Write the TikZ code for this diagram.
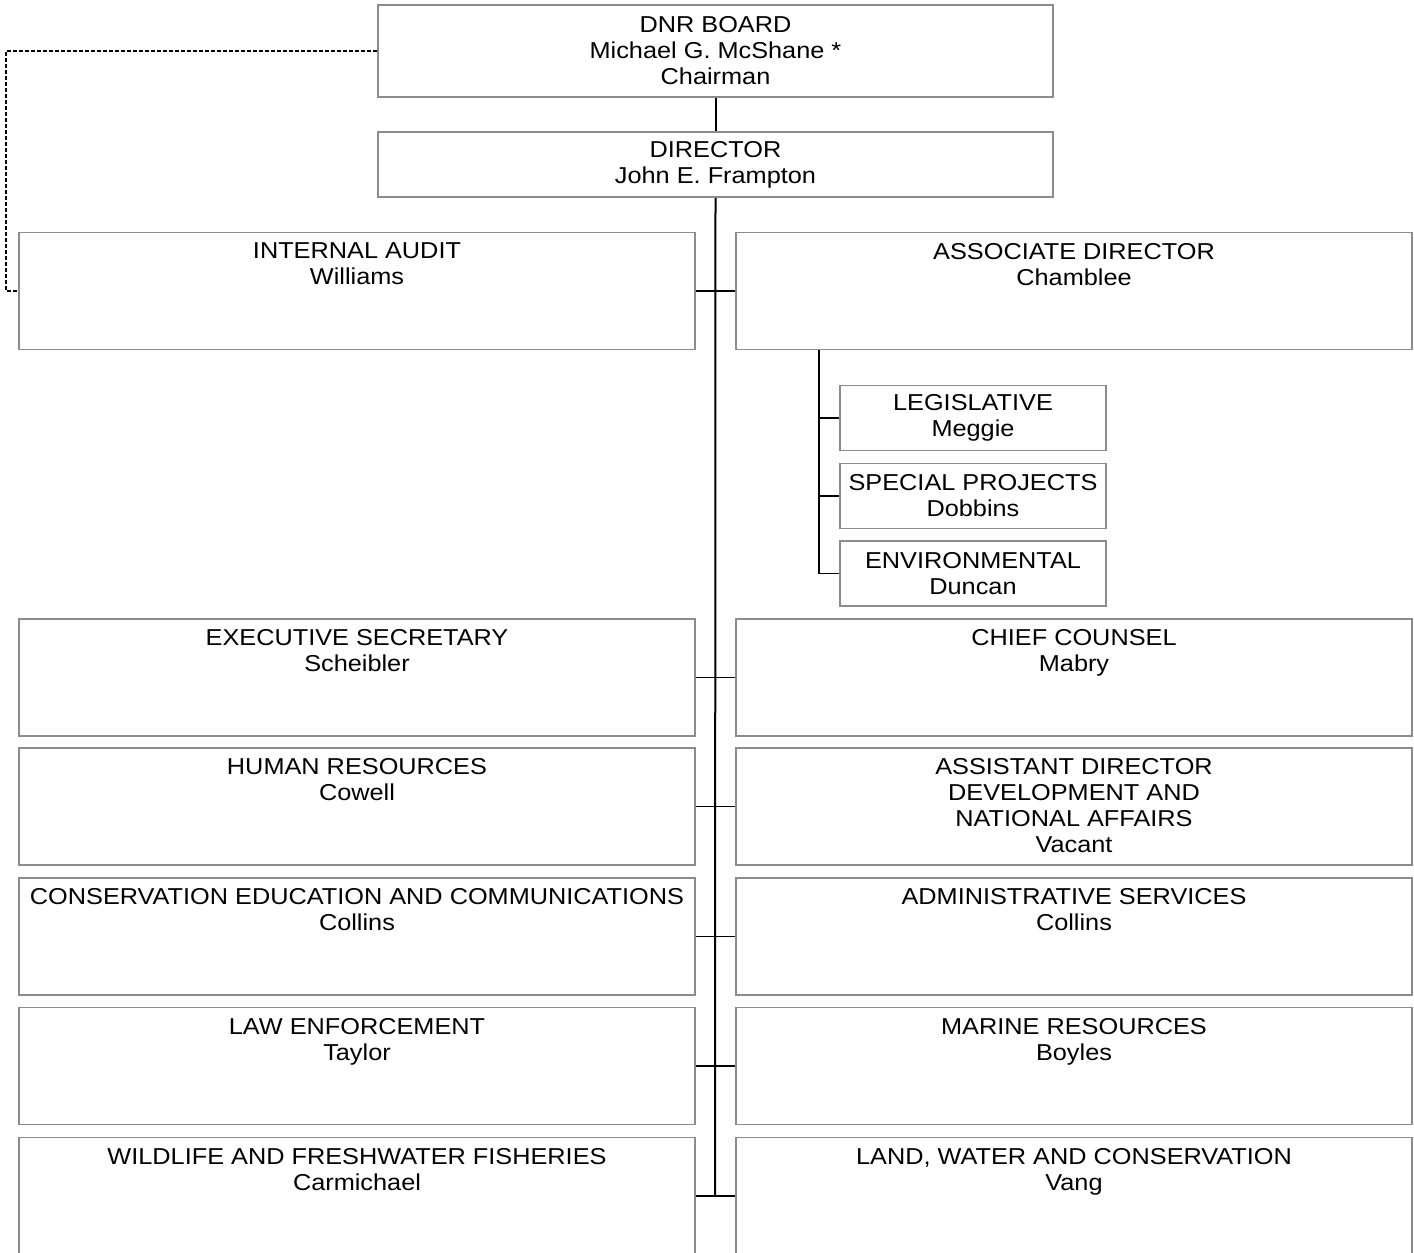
\documentclass[tikz,border=0pt]{standalone}
\usepackage{fontspec}
\setmainfont{Liberation Sans}[FakeStretch=1.1]
\usetikzlibrary{positioning}

\begin{document}
\begin{tikzpicture}[x=0.5pt, y=-0.5pt,
    every node/.style={font=\fontsize{11.5}{13}\selectfont},
    box/.style={draw=black!45, line width=0.8pt, inner sep=0pt, align=center},
    head/.style={box, minimum width=337.5pt},
    unit/.style={box, minimum width=338pt, minimum height=58.5pt},
    office/.style={box, minimum width=133pt, minimum height=32.5pt},
    title/.style={align=center, inner sep=0pt},
    link/.style={line width=0.8pt},
    trunk/.style={line width=1pt},
    liaison/.style={line width=0.7pt, dash pattern=on 2.2pt off 0.8pt}]
    \useasboundingbox (0,0) rectangle (1414,1253);
    \clip (0,0) rectangle (1414,1253);

    % board and director
    \node[head, minimum height=46pt] (board) at (715.5,51) {DNR BOARD\\Michael G. McShane *\\Chairman};
    \node[head, minimum height=32.5pt] (director) at (715.5,164.5) {DIRECTOR\\John E. Frampton};

    % left column
    \node[unit] (audit) at (357,291) {};
    \node[title, below=5.5pt of audit.north] (auditT) {INTERNAL AUDIT\\Williams};
    \node[unit] (secretary) at (357,677.5) {};
    \node[title, below=5.5pt of secretary.north] (secretaryT) {EXECUTIVE SECRETARY\\Scheibler};
    \node[unit] (hr) at (357,806.5) {};
    \node[title, below=5.5pt of hr.north] (hrT) {HUMAN RESOURCES\\Cowell};
    \node[unit] (education) at (357,936.5) {};
    \node[title, below=5.5pt of education.north] (educationT) {CONSERVATION EDUCATION AND COMMUNICATIONS\\Collins};
    \node[unit] (law) at (357,1066) {};
    \node[title, below=5.5pt of law.north] (lawT) {LAW ENFORCEMENT\\Taylor};
    \node[unit] (wildlife) at (357,1196) {};
    \node[title, below=5.5pt of wildlife.north] (wildlifeT) {WILDLIFE AND FRESHWATER FISHERIES\\Carmichael};

    % right column
    \node[unit] (associate) at (1074,291) {};
    \node[title, below=5.5pt of associate.north] (associateT) {ASSOCIATE DIRECTOR\\Chamblee};
    \node[unit] (counsel) at (1074,677.5) {};
    \node[title, below=5.5pt of counsel.north] (counselT) {CHIEF COUNSEL\\Mabry};
    \node[unit] (assistant) at (1074,806.5) {};
    \node[title, below=5.5pt of assistant.north] (assistantT) {ASSISTANT DIRECTOR\\DEVELOPMENT AND\\NATIONAL AFFAIRS\\Vacant};
    \node[unit] (admin) at (1074,936.5) {};
    \node[title, below=5.5pt of admin.north] (adminT) {ADMINISTRATIVE SERVICES\\Collins};
    \node[unit] (marine) at (1074,1066) {};
    \node[title, below=5.5pt of marine.north] (marineT) {MARINE RESOURCES\\Boyles};
    \node[unit] (land) at (1074,1196) {};
    \node[title, below=5.5pt of land.north] (landT) {LAND, WATER AND CONSERVATION\\Vang};

    % offices under the associate director
    \node[office] (legislative) at (973,418) {LEGISLATIVE\\Meggie};
    \node[office] (projects) at (973,496) {SPECIAL PROJECTS\\Dobbins};
    \node[office] (environmental) at (973,573.5) {ENVIRONMENTAL\\Duncan};

    % connectors
    \coordinate (trunkEnd) at (715,1196);
    \coordinate (officeBus) at (819,350);
    \coordinate (auditBend) at (6,51);
    \draw[trunk] (board) -- (director);
    \draw[trunk] (director.south) -- (trunkEnd);
    \draw[link] (audit.east) -- (associate.west);
    \draw[link] (secretary.east) -- (counsel.west);
    \draw[link] (hr.east) -- (assistant.west);
    \draw[link] (education.east) -- (admin.west);
    \draw[link] (law.east) -- (marine.west);
    \draw[link] (wildlife.east) -- (land.west);
    \draw[link] (officeBus) |- (legislative.west);
    \draw[link] (officeBus) |- (projects.west);
    \draw[link] (officeBus) |- (environmental.west);
    \draw[liaison] (board.west) -- (auditBend) |- (audit.west);
\end{tikzpicture}
\end{document}
